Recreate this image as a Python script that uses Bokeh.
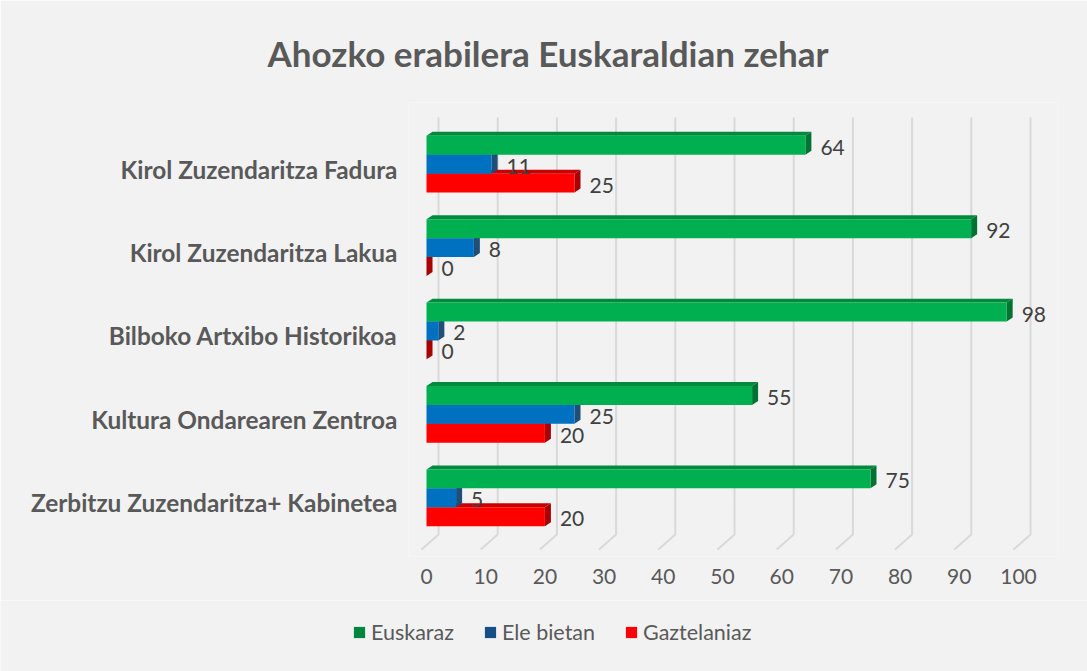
from bokeh.plotting import figure
from bokeh.layouts import column
from bokeh.models import Range1d, FixedTicker, Legend, LegendItem
from bokeh.core.properties import value
from bokeh.embed import file_html
from bokeh.resources import INLINE

# ---------------- data ----------------
categories = [
    "Kirol Zuzendaritza Fadura",
    "Kirol Zuzendaritza Lakua",
    "Bilboko Artxibo Historikoa",
    "Kultura Ondarearen Zentroa",
    "Zerbitzu Zuzendaritza+ Kabinetea",
]
series_names = ["Euskaraz", "Ele bietan", "Gaztelaniaz"]
euskaraz = [64, 92, 98, 55, 75]
ele_bietan = [11, 8, 2, 25, 5]
gaztelaniaz = [25, 0, 0, 20, 20]
x_ticks = [0, 10, 20, 30, 40, 50, 60, 70, 80, 90, 100]
title_text = "Ahozko erabilera Euskaraldian zehar"

# ---------------- styling ----------------
FONT = "Lato"
BG = "#f2f2f2"
front_colors = ["#00b050", "#0070c0", "#ff0000"]
top_colors = ["#008a3e", "#00508c", "#c80000"]
side_colors = ["#007232", "#1f4e79", "#a80000"]
legend_colors = ["#00873d", "#154f86", "#ff0000"]

PX_X = 5.92   # pixels per value unit
PX_Y = 83.75  # pixels per category
bar_h = 19 / PX_Y
offsets = [-24 / PX_Y, -5 / PX_Y, 14 / PX_Y]
ddx = 6 / PX_X
ddy = -4 / PX_Y

W = 1087
H1, H2 = 600, 71
frame_left, frame_right = 408, 1058
frame_top, frame_bottom = 100, 556
zero_px = 426
cat0_px = 167

x_start = (frame_left - zero_px) / PX_X
x_end = (frame_right - zero_px) / PX_X
y_top = (frame_top - cat0_px) / PX_Y
y_bot = (frame_bottom - cat0_px) / PX_Y

p = figure(
    width=W, height=H1,
    x_range=Range1d(x_start, x_end),
    y_range=Range1d(y_bot, y_top),
    output_backend="svg", toolbar_location=None,
    min_border_left=frame_left, min_border_right=W - frame_right,
    min_border_top=frame_top, min_border_bottom=H1 - frame_bottom,
    background_fill_color=BG, border_fill_color=BG,
    outline_line_color=None,
)
p.frame_align = False

# title
p.title.text = title_text
p.title.align = "left"
p.title.offset = 267 - frame_left
p.title.text_font = FONT
p.title.text_font_size = "35px"
p.title.text_font_style = "bold"
p.title.text_color = "#595959"
p.title.standoff = 58

p.xgrid.visible = False
p.ygrid.visible = False

# 3D-ish gridlines (back wall + floor)
back_dx = 12 / PX_X
front_dx = -5 / PX_X
y_grid_top = (115 - cat0_px) / PX_Y
y_floor_back = (534 - cat0_px) / PX_Y
y_floor_front = (549 - cat0_px) / PX_Y
gx = [[t + front_dx, t + back_dx, t + back_dx] for t in x_ticks]
gy = [[y_floor_front, y_floor_back, y_grid_top] for t in x_ticks]
p.multi_line(gx, gy, line_color="#d9d9d9", line_width=2)

# bars (drawn bottom series first so upper bars overlap top faces)
data = [euskaraz, ele_bietan, gaztelaniaz]
for s in [2, 1, 0]:
    vals = data[s]
    ys = [i + offsets[s] for i in range(len(categories))]
    tops = [y - bar_h / 2 for y in ys]
    bots = [y + bar_h / 2 for y in ys]
    xs_top = [[0, v, v + ddx, ddx] for v in vals]
    ys_top = [[t, t, t + ddy, t + ddy] for t in tops]
    xs_side = [[v, v + ddx, v + ddx, v] for v in vals]
    ys_side = [[t, t + ddy, b + ddy, b] for t, b in zip(tops, bots)]
    p.patches(xs_top, ys_top, fill_color=top_colors[s], line_color=None)
    p.patches(xs_side, ys_side, fill_color=side_colors[s], line_color=None)
    p.hbar(y=ys, left=0, right=vals, height=bar_h,
           fill_color=front_colors[s], line_color=None)
    p.text(x=vals, y=ys, text=[str(v) for v in vals], x_offset=15, y_offset=2,
           text_font=value(FONT), text_font_size="21px", text_color="#404040",
           text_baseline="middle", text_align="left")

# axes
p.xaxis.ticker = FixedTicker(ticks=x_ticks)
p.xaxis.axis_line_color = None
p.xaxis.major_tick_line_color = None
p.xaxis.minor_tick_line_color = None
p.xaxis.major_label_text_font = FONT
p.xaxis.major_label_text_font_size = "21px"
p.xaxis.major_label_text_color = "#595959"
p.xaxis.major_label_standoff = 6

p.yaxis.ticker = FixedTicker(ticks=list(range(len(categories))))
p.yaxis.major_label_overrides = {i: c for i, c in enumerate(categories)}
p.yaxis.axis_line_color = None
p.yaxis.major_tick_line_color = None
p.yaxis.minor_tick_line_color = None
p.yaxis.major_label_text_font = FONT
p.yaxis.major_label_text_font_size = "24.4px"
p.yaxis.major_label_text_font_style = "bold"
p.yaxis.major_label_text_color = "#595959"
p.yaxis.major_label_standoff = 5

# legend strip below the chart
p2 = figure(
    width=W, height=H2,
    x_range=Range1d(0, 1), y_range=Range1d(0, 1),
    output_backend="svg", toolbar_location=None,
    x_axis_location=None, y_axis_location=None,
    min_border=0, background_fill_color=BG, border_fill_color=BG,
    outline_line_color=None,
)
p2.frame_align = False
p2.xgrid.visible = False
p2.ygrid.visible = False
items = []
for name, c in zip(series_names, legend_colors):
    # swatch renderer kept outside the visible range; only its legend glyph shows
    r = p2.quad(left=[-3], right=[-2], top=[-2], bottom=[-3], fill_color=c, line_color=None)
    items.append(LegendItem(label=name, renderers=[r]))
legend = Legend(items=items, orientation="horizontal", location=(352, 26),
                label_text_font=FONT, label_text_font_size="21.5px",
                label_text_color="#595959", glyph_width=14, glyph_height=14,
                label_standoff=5, spacing=29, padding=0, margin=0,
                background_fill_alpha=0, border_line_color=None)
p2.add_layout(legend, "center")

layout = column(p, p2)
open("out.html", "w").write(file_html(layout, INLINE))
